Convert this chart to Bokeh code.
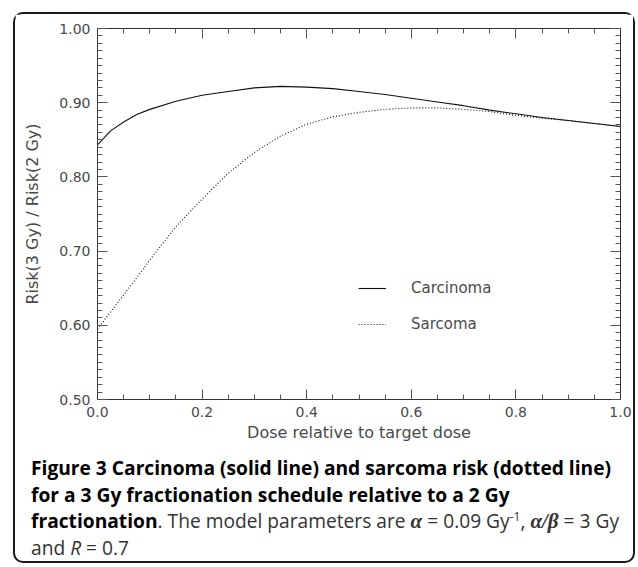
from bokeh.plotting import figure
from bokeh.models import (LinearAxis, FixedTicker, PrintfTickFormatter, Legend,
                          LegendItem, Div, ColumnDataSource, Range1d)
from bokeh.layouts import column
from bokeh.embed import file_html
from bokeh.resources import INLINE

# ---------------- data ----------------
dose = [0.0, 0.025, 0.05, 0.075, 0.1, 0.15, 0.2, 0.25, 0.3, 0.35, 0.4, 0.45,
        0.5, 0.55, 0.6, 0.65, 0.7, 0.75, 0.8, 0.85, 0.9, 0.95, 1.0]
carcinoma = [0.843, 0.862, 0.874, 0.884, 0.891, 0.902, 0.910, 0.915, 0.920,
             0.922, 0.921, 0.919, 0.915, 0.911, 0.906, 0.901, 0.896, 0.890,
             0.885, 0.880, 0.876, 0.872, 0.868]
sarcoma = [0.595, 0.618, 0.641, 0.664, 0.688, 0.733, 0.770, 0.805, 0.833,
           0.855, 0.871, 0.881, 0.887, 0.891, 0.893, 0.893, 0.891, 0.888,
           0.883, 0.879, 0.876, 0.872, 0.868]

x_ticks = [0.0, 0.2, 0.4, 0.6, 0.8, 1.0]
x_minor = [i * 0.05 for i in range(21)]
y_ticks = [0.5, 0.6, 0.7, 0.8, 0.9, 1.0]
y_minor = [0.5 + i * 0.01 for i in range(51)]

series_names = ["Carcinoma", "Sarcoma"]
x_title = "Dose relative to target dose"
y_title = "Risk(3 Gy) / Risk(2 Gy)"

AX_FONT = "DejaVu Sans"
TXT = "#4a4a4a"
LINE = "#333333"

src = ColumnDataSource(dict(dose=dose, carcinoma=carcinoma, sarcoma=sarcoma))

p = figure(width=618, height=431, output_backend="svg", toolbar_location=None,
           x_range=Range1d(0, 1), y_range=Range1d(0.5, 1.0),
           min_border_left=82, min_border_right=13, min_border_top=14,
           min_border_bottom=46)
p.outline_line_color = None
p.xgrid.visible = False
p.ygrid.visible = False
p.background_fill_color = "white"
p.border_fill_color = "white"

r1 = p.line("dose", "carcinoma", source=src, line_color="#111111", line_width=1.1)
r2 = p.line("dose", "sarcoma", source=src, line_color="#111111", line_width=1.1,
            line_dash="1 2")


def style_axis(ax, ticks=None, labels=True):
    ax.axis_line_color = LINE
    ax.axis_line_width = 1
    ax.major_tick_line_color = "#555555"
    ax.minor_tick_line_color = "#555555"
    ax.major_tick_in = 10
    ax.major_tick_out = 0
    ax.minor_tick_in = 5
    ax.minor_tick_out = 0
    if labels:
        ax.major_label_text_font = AX_FONT
        ax.major_label_text_font_size = "14px"
        ax.major_label_text_color = TXT
        ax.major_label_standoff = 7
        ax.axis_label_text_font = AX_FONT
        ax.axis_label_text_font_size = "16px"
        ax.axis_label_text_font_style = "normal"
        ax.axis_label_text_color = TXT
    else:
        ax.major_label_overrides = {t: "" for t in ticks}
        ax.major_label_standoff = 0


xt = FixedTicker(ticks=x_ticks, minor_ticks=x_minor)
yt = FixedTicker(ticks=y_ticks, minor_ticks=y_minor)

xa = p.xaxis[0]
xa.ticker = xt
xa.formatter = PrintfTickFormatter(format="%.1f")
xa.axis_label = x_title
style_axis(xa)
xa.axis_label_standoff = 3

ya = p.yaxis[0]
ya.ticker = yt
ya.formatter = PrintfTickFormatter(format="%.2f")
ya.axis_label = y_title
style_axis(ya)
ya.axis_label_standoff = 14

top = LinearAxis(ticker=FixedTicker(ticks=x_ticks, minor_ticks=x_minor))
style_axis(top, ticks=x_ticks, labels=False)
p.add_layout(top, "above")
right = LinearAxis(ticker=FixedTicker(ticks=y_ticks, minor_ticks=y_minor))
style_axis(right, ticks=y_ticks, labels=False)
p.add_layout(right, "right")

legend = Legend(items=[LegendItem(label=series_names[0], renderers=[r1]),
                       LegendItem(label=series_names[1], renderers=[r2])],
                location=(261, 65), orientation="vertical")
legend.border_line_color = None
legend.background_fill_alpha = 0
legend.padding = 0
legend.margin = 0
legend.spacing = 16
legend.glyph_width = 28
legend.glyph_height = 20
legend.label_height = 20
legend.label_standoff = 25
legend.label_text_font = AX_FONT
legend.label_text_font_size = "15px"
legend.label_text_color = TXT
p.add_layout(legend, "center")

caption_html = (
    "<div style=\"font-family:'Open Sans'; font-size:19.2px; line-height:26.5px; "
    "color:#333; padding:10px 0 0 16px; white-space:nowrap;\">"
    "<b style='color:#000'>Figure 3 Carcinoma (solid line) and sarcoma risk (dotted line)<br>"
    "for a 3 Gy fractionation schedule relative to a 2 Gy<br>fractionation</b>. "
    "The model parameters are "
    "<b><i style=\"font-family:'Liberation Serif'; font-size:21px\">&alpha;</i></b> = 0.09 Gy"
    "<sup style='font-size:12px; line-height:0'>-1</sup>, "
    "<b><i style=\"font-family:'Liberation Serif'; font-size:21px\">&alpha;/&beta;</i></b> = 3 Gy<br>"
    "and <i>R</i> = 0.7</div>"
)
cap = Div(text=caption_html, width=618, height=116, margin=0)

layout = column(p, cap, spacing=0, margin=(12, 0, 0, 13),
                styles={"border": "2px solid #1a1a1a", "border-radius": "10px"})

open("out.html", "w").write(file_html(layout, INLINE))
